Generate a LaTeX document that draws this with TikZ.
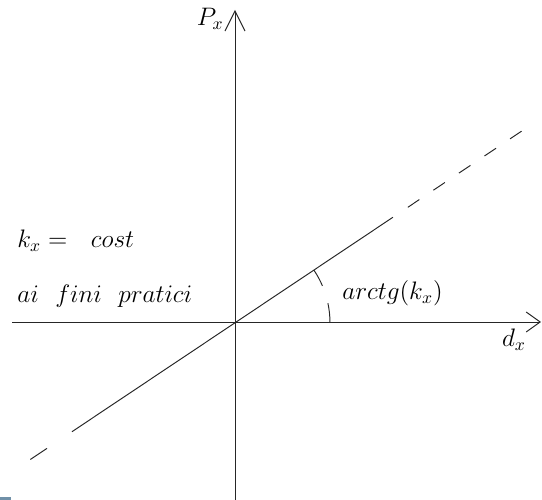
\documentclass[tikz,border=0pt]{standalone}
\usepackage{amsmath}
\usetikzlibrary{calc,arrows.meta}
\definecolor{cornerblue}{RGB}{112,144,168}
\tikzset{
  axis/.style={line width=0.55pt, draw=black!85, -{Straight Barb[length=#1,width=0.4cm]}},
  ray/.style={line width=0.55pt, draw=black!85},
  gapray/.style={ray, dash pattern=on 7.9pt off 9.6pt},
  tag/.style={font=\Large, inner sep=0pt},
}
\begin{document}
\begin{tikzpicture}[x=0.02cm,y=0.02cm]
  \useasboundingbox (0,0) rectangle (542,500);
  \coordinate (O) at (235,177);
  \coordinate (yb) at (235,0);
  \coordinate (yt) at (235,490);
  \coordinate (xl) at (12,178);
  \coordinate (xr) at (541,178);
  \coordinate (r1) at ($(O)+(213.7:246)$);
  \coordinate (r2) at ($(O)+(213.7:226)$);
  \coordinate (r3) at ($(O)+(213.7:196)$);
  \coordinate (r4) at ($(O)+(33.8:190)$);
  \coordinate (r5) at ($(O)+(33.8:208)$);
  \coordinate (r6) at ($(O)+(33.8:352)$);
  \draw[axis=0.4cm] (yb) -- (yt);
  \draw[axis=0.28cm] (xl) -- (xr);
  \draw[ray] (r1) -- (r2);
  \draw[ray] (r3) -- (r4);
  \draw[gapray] (r5) -- (r6);
  \draw[ray] ($(O)+(33.8:95)$) arc[start angle=33.8, end angle=23, radius=95];
  \draw[ray] ($(O)+(12:95)$) arc[start angle=12, end angle=0, radius=95];
  \node[tag, anchor=east] (Px) at (224,481) {$P_x$};
  \node[tag] (dx) at (514,160) {$d_x$};
  \node[tag, anchor=base west] (kx) at (17,252) {$k_x =\ \ cost$};
  \node[tag, anchor=base west] (fini) at (17,197) {$ai\ \ fini\ \ pratici$};
  \node[tag, anchor=base west] (arctg) at (342,200) {$arctg(k_x)$};
  \fill[cornerblue] (0,0) rectangle (11,3);
\end{tikzpicture}
\end{document}
